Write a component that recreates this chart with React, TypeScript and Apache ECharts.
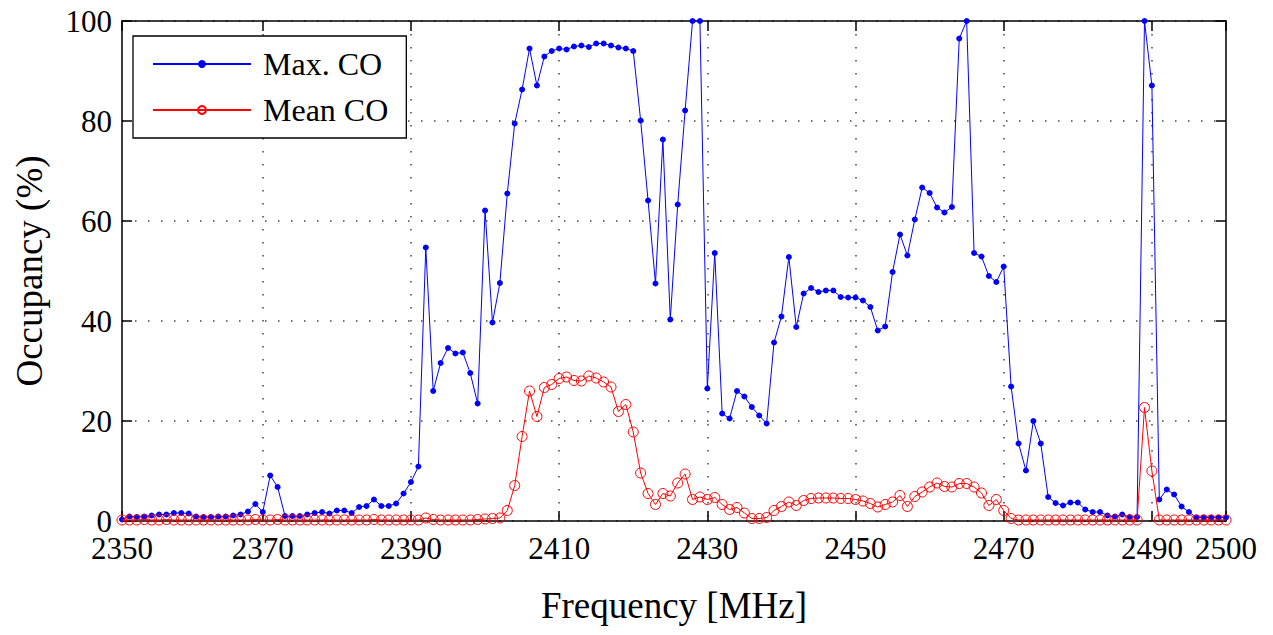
import React, { useEffect, useRef } from "react";
import * as echarts from "echarts";

// Channel occupancy per 1 MHz bin, 2351..2500 MHz
const freqStart = 2351;

const maxCO = [
  0.3, 0.9, 0.8, 0.9, 1.1, 1.3, 1.3, 1.6, 1.6, 1.5,
  0.9, 0.8, 0.8, 0.9, 0.9, 1.1, 1.3, 1.9, 3.4, 1.8,
  9.1, 6.8, 1.0, 1.0, 1.0, 1.3, 1.6, 1.8, 1.5, 2.1,
  2.1, 1.6, 2.8, 3.0, 4.3, 3.0, 3.0, 3.5, 5.5, 7.8,
  10.9, 54.7, 26.0, 31.6, 34.6, 33.5, 33.7, 29.6, 23.5, 62.1,
  39.7, 47.6, 65.5, 79.5, 86.3, 94.5, 87.1, 92.9, 94.0, 94.5,
  94.3, 94.9, 95.1, 94.8, 95.5, 95.5, 95.1, 94.7, 94.5, 94.0,
  80.1, 64.1, 47.5, 76.3, 40.3, 63.3, 82.1, 100, 100, 26.5,
  53.6, 21.5, 20.5, 26.0, 24.9, 22.8, 21.1, 19.5, 35.7, 40.9,
  52.8, 38.8, 45.5, 46.6, 45.8, 46.1, 46.1, 44.8, 44.7, 44.7,
  44.1, 42.8, 38.1, 38.9, 49.8, 57.3, 53.1, 60.3, 66.7, 65.6,
  62.7, 61.7, 62.8, 96.5, 100, 53.6, 52.9, 49.0, 47.8, 50.9,
  26.9, 15.5, 10.1, 20.0, 15.5, 4.8, 3.6, 3.1, 3.7, 3.7,
  2.3, 1.8, 1.8, 1.1, 0.9, 1.3, 0.8, 0.8, 100, 87.1,
  4.3, 6.3, 5.3, 2.9, 1.8, 0.7, 0.7, 0.7, 0.7, 0.7,
];

const meanCO = [
  0.2, 0.2, 0.2, 0.3, 0.2, 0.2, 0.3, 0.2, 0.2, 0.2,
  0.2, 0.2, 0.2, 0.2, 0.2, 0.2, 0.2, 0.2, 0.3, 0.2,
  0.2, 0.3, 0.2, 0.2, 0.2, 0.2, 0.2, 0.2, 0.2, 0.2,
  0.2, 0.2, 0.2, 0.2, 0.3, 0.2, 0.2, 0.2, 0.2, 0.2,
  0.2, 0.6, 0.3, 0.2, 0.2, 0.2, 0.2, 0.2, 0.3, 0.4,
  0.5, 0.6, 2.1, 7.1, 16.9, 26.0, 20.9, 26.7, 27.3, 28.5,
  28.8, 28.1, 28.0, 29.0, 28.6, 27.8, 26.8, 21.9, 23.3, 17.8,
  9.6, 5.5, 3.3, 5.5, 5.0, 7.6, 9.4, 4.3, 4.8, 4.3,
  4.7, 3.3, 2.3, 2.7, 1.6, 0.5, 0.5, 0.7, 2.1, 2.9,
  3.8, 3.1, 4.1, 4.5, 4.6, 4.6, 4.6, 4.5, 4.5, 4.3,
  4.0, 3.5, 2.8, 3.3, 3.8, 5.1, 2.9, 4.9, 5.8, 6.8,
  7.6, 6.9, 6.8, 7.5, 7.5, 6.8, 5.6, 3.1, 4.3, 2.1,
  0.5, 0.2, 0.2, 0.2, 0.2, 0.2, 0.2, 0.2, 0.2, 0.2,
  0.2, 0.2, 0.2, 0.2, 0.2, 0.2, 0.2, 0.2, 22.7, 10.0,
  0.2, 0.2, 0.2, 0.2, 0.2, 0.2, 0.2, 0.2, 0.2, 0.2,
];

const xTickValues = [2351, 2370, 2390, 2410, 2430, 2450, 2470, 2490, 2500];
const xTickLabels = ["2350", "2370", "2390", "2410", "2430", "2450", "2470", "2490", "2500"];
const gridValues = [2370, 2390, 2410, 2430, 2450, 2470, 2490];

const SERIF = "'Liberation Serif', 'Times New Roman', serif";

export default function App() {
  const ref = useRef<HTMLDivElement>(null);

  useEffect(() => {
    if (!ref.current) return;
    const chart = echarts.init(ref.current, null, { renderer: "svg" });

    const freqs = maxCO.map((_, i) => freqStart + i);
    const maxData = freqs.map((f, i) => [f, maxCO[i]]);
    const meanData = freqs.map((f, i) => [f, meanCO[i]]);

    const xMin = xTickValues[0];
    const xMax = xTickValues[xTickValues.length - 1];

    const tickStyle = { show: true, inside: true, length: 10, lineStyle: { color: "#000", width: 1.5 } };
    const axisLineStyle = { show: true, onZero: false, lineStyle: { color: "#000", width: 1.5 } };
    const dotted = { color: "#444", width: 1.5, type: [1.5, 11.5] as number[] };

    chart.setOption({
      animation: false,
      backgroundColor: "#fff",
      grid: { left: 122, top: 21, right: 47, bottom: 114, containLabel: false },
      legend: {
        orient: "vertical",
        left: 133,
        top: 36,
        padding: [12, 18, 12, 19],
        itemWidth: 98,
        itemHeight: 10,
        itemGap: 14,
        borderColor: "#000",
        borderWidth: 1.3,
        backgroundColor: "#fff",
        textStyle: { fontFamily: SERIF, fontSize: 32, color: "#000", lineHeight: 32, padding: [0, 0, 0, 7] },
        data: ["Max. CO", "Mean CO"],
      },
      xAxis: [
        {
          type: "value",
          min: xMin,
          max: xMax,
          name: "Frequency [MHz]",
          nameLocation: "middle",
          nameGap: 66,
          nameTextStyle: { fontFamily: SERIF, fontSize: 37, color: "#000" },
          axisLine: axisLineStyle,
          axisTick: { ...tickStyle, customValues: xTickValues },
          axisLabel: {
            customValues: xTickValues,
            margin: 16,
            fontFamily: SERIF,
            fontSize: 31,
            lineHeight: 22,
            color: "#000",
            formatter: (v: number) => {
              const i = xTickValues.indexOf(v);
              return i >= 0 ? xTickLabels[i] : "";
            },
          },
          splitLine: { show: false },
        },
        {
          type: "value",
          position: "top",
          min: xMin,
          max: xMax,
          axisLine: axisLineStyle,
          axisTick: { ...tickStyle, customValues: xTickValues },
          axisLabel: { show: false, customValues: xTickValues },
          splitLine: { show: false },
        },
        {
          // vertical dotted grid
          type: "value",
          position: "bottom",
          min: xMin,
          max: xMax,
          axisLine: { show: false },
          axisTick: { show: false, customValues: gridValues },
          axisLabel: { show: false, customValues: gridValues },
          splitLine: { show: true, lineStyle: dotted },
        },
      ],
      yAxis: [
        {
          type: "value",
          min: 0,
          max: 100,
          interval: 20,
          name: "Occupancy (%)",
          nameLocation: "middle",
          nameGap: 74,
          nameTextStyle: { fontFamily: SERIF, fontSize: 37, color: "#000" },
          axisLine: axisLineStyle,
          axisTick: tickStyle,
          axisLabel: { margin: 10, fontFamily: SERIF, fontSize: 31, lineHeight: 22, color: "#000" },
          splitLine: { show: true, lineStyle: dotted },
        },
        {
          type: "value",
          position: "right",
          min: 0,
          max: 100,
          interval: 20,
          axisLine: axisLineStyle,
          axisTick: tickStyle,
          axisLabel: { show: false },
          splitLine: { show: false },
        },
      ],
      series: [
        {
          name: "Max. CO",
          type: "line",
          xAxisIndex: 0,
          yAxisIndex: 0,
          data: maxData,
          symbol: "circle",
          symbolSize: 6,
          showAllSymbol: true,
          lineStyle: { color: "#0000ff", width: 1 },
          itemStyle: { color: "#0000ff" },
          z: 3,
        },
        {
          name: "Mean CO",
          type: "line",
          xAxisIndex: 0,
          yAxisIndex: 0,
          data: meanData,
          symbol: "circle",
          symbolSize: 10,
          showAllSymbol: true,
          lineStyle: { color: "#ff0000", width: 1 },
          itemStyle: { color: "transparent", borderColor: "#ff0000", borderWidth: 1 },
          z: 4,
        },
      ],
    });

    return () => chart.dispose();
  }, []);

  return (
    <div
      ref={ref}
      style={{ position: "fixed", left: 0, top: 0, width: 1273, height: 635, background: "#fff" }}
    />
  );
}
